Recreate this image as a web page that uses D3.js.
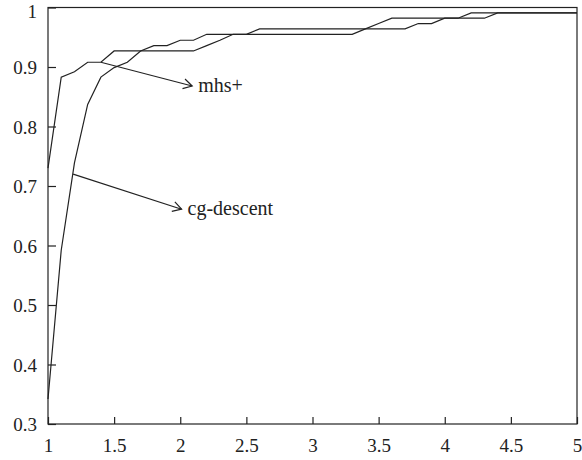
<!DOCTYPE html>
<html>
<head>
<meta charset="utf-8">
<style>
body { margin: 0; background: #fff; }
svg text { font-family: "Liberation Serif", "DejaVu Serif", serif; fill: #222; }
.axis path { display: none; }
.axis line { stroke: #222; stroke-width: 1.2px; }
</style>
<script src="https://cdn.jsdelivr.net/npm/d3@7/dist/d3.min.js"></script>
</head>
<body>
<svg width="582" height="460"></svg>
<script>

// ratio values
var xs = [1.0, 1.1, 1.2, 1.3, 1.4, 1.5, 1.6, 1.7, 1.8, 1.9, 2.0, 2.1, 2.2, 2.3, 2.4, 2.5, 2.6,
          3.3, 3.4, 3.5, 3.6, 3.7, 3.8, 3.9, 4.0, 4.1, 4.2, 4.3, 4.4, 5.0];

var mhsPlus = [0.730, 0.883, 0.892, 0.908, 0.908, 0.927, 0.927, 0.927, 0.927, 0.927, 0.927, 0.927, 0.936, 0.945, 0.955, 0.955, 0.964,
               0.964, 0.964, 0.964, 0.964, 0.964, 0.973, 0.973, 0.982, 0.982, 0.991, 0.991, 0.991, 0.991];

var cgDescent = [0.342, 0.592, 0.739, 0.837, 0.883, 0.899, 0.908, 0.927, 0.936, 0.936, 0.945, 0.945, 0.955, 0.955, 0.955, 0.955, 0.955,
                 0.955, 0.964, 0.973, 0.982, 0.982, 0.982, 0.982, 0.982, 0.982, 0.982, 0.982, 0.991, 0.991];

var xTicks = [1, 1.5, 2, 2.5, 3, 3.5, 4, 4.5, 5];
var yTicks = [0.3, 0.4, 0.5, 0.6, 0.7, 0.8, 0.9, 1];

// annotations: [label, from x, from y, to x, to y]
var notes = [
  ["mhs+", 1.4, 0.908, 2.09, 0.868],
  ["cg-descent", 1.19, 0.72, 2.01, 0.661]
];

var svg = d3.select("svg");
var mLeft = 48, mRight = 577, mTop = 7.5, mBottom = 424;

var x = d3.scaleLinear().domain([1, 5]).range([mLeft, mRight]);
var y = d3.scaleLinear().domain([0.3, 1]).range([mBottom, mTop]);

var xAxis = svg.append("g")
    .attr("class", "axis")
    .attr("transform", "translate(0," + mBottom + ")")
    .call(d3.axisBottom(x).tickValues(xTicks).tickSizeInner(-7).tickSizeOuter(0)
      .tickPadding(28).tickFormat(d3.format("")));
xAxis.selectAll("text").attr("font-size", 19).attr("dy", "0");

var yAxis = svg.append("g")
    .attr("class", "axis")
    .attr("transform", "translate(" + mLeft + ",0)")
    .call(d3.axisLeft(y).tickValues(yTicks).tickSizeInner(-8).tickSizeOuter(0)
      .tickPadding(11).tickFormat(d3.format("")));
yAxis.selectAll("text")
    .attr("font-size", 19)
    .attr("dy", function(d) { return d === 1 ? "0.5em" : "0.35em"; });

svg.append("rect")
    .attr("x", mLeft).attr("y", mTop)
    .attr("width", mRight - mLeft).attr("height", mBottom - mTop)
    .attr("fill", "none").attr("stroke", "#222").attr("stroke-width", 1.2);

var line = d3.line()
    .x(function(d) { return x(d[0]); })
    .y(function(d) { return y(d[1]); });

[mhsPlus, cgDescent].forEach(function(s) {
  svg.append("path")
      .datum(d3.zip(xs, s))
      .attr("d", line)
      .attr("fill", "none")
      .attr("stroke", "#222")
      .attr("stroke-width", 1.2);
});

notes.forEach(function(n) {
  var x1 = x(n[1]), y1 = y(n[2]), x2 = x(n[3]), y2 = y(n[4]);
  var a = Math.atan2(y2 - y1, x2 - x1), len = 10, spread = Math.PI / 6;
  svg.append("line")
      .attr("x1", x1).attr("y1", y1).attr("x2", x2).attr("y2", y2)
      .attr("stroke", "#222").attr("stroke-width", 1.2);
  svg.append("path")
      .attr("d", "M" + (x2 - len * Math.cos(a - spread)) + "," + (y2 - len * Math.sin(a - spread)) +
                 "L" + x2 + "," + y2 +
                 "L" + (x2 - len * Math.cos(a + spread)) + "," + (y2 - len * Math.sin(a + spread)))
      .attr("fill", "none").attr("stroke", "#222").attr("stroke-width", 1.2);
  svg.append("text")
      .attr("x", x2 + 6).attr("y", y2 + 6)
      .attr("font-size", 20)
      .text(n[0]);
});

</script>
</body>
</html>
